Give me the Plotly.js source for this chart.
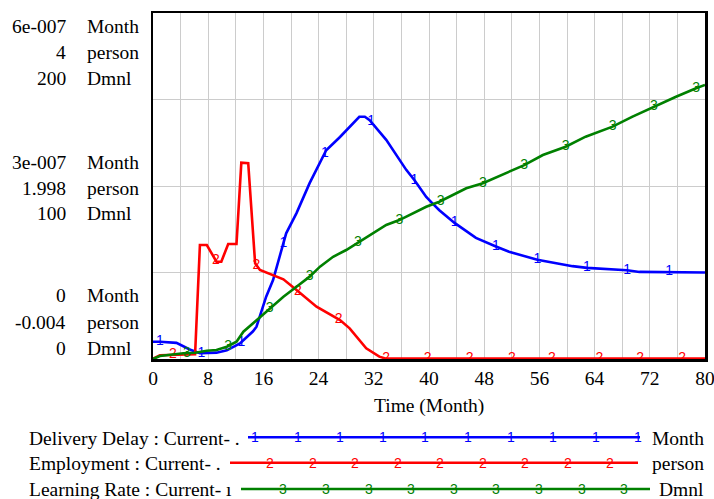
<!DOCTYPE html>
<html>
<head>
<meta charset="utf-8">
<script src="https://cdn.plot.ly/plotly-3.0.1.min.js"></script>
<style>html,body{margin:0;padding:0;background:#fff;}#chart{width:714px;height:499px;}</style>
</head>
<body>
<div id="chart"></div>
<script>
// ---- data ----
const seriesNames = ["Delivery Delay : Current- .", "Employment : Current- .", "Learning Rate : Current- \u0131"];
const seriesUnits = ["Month", "person", "Dmnl"];
const seriesMarks = ["1", "2", "3"];

const deliveryT = [0,1,3.4,5.4,6.8,9.2,10.7,12.6,14.5,15,16.4,17.4,19.3,20.8,22.7,24.2,25.1,27.1,28.5,29.9,30.7,31.4,33.8,35.7,36.7,37.9,39.6,40.5,41.5,43.7,46.8,49.7,51.6,55.7,60.8,62.9,65.6,68.7,70.5,74.8,80];
const deliveryV = [3.0e-8,3.0e-8,2.8e-8,1.6e-8,1.0e-8,1.1e-8,1.5e-8,2.7e-8,4.8e-8,5.6e-8,1.08e-7,1.37e-7,2.18e-7,2.53e-7,3.05e-7,3.39e-7,3.62e-7,3.85e-7,4.03e-7,4.2e-7,4.2e-7,4.14e-7,3.8e-7,3.46e-7,3.28e-7,3.1e-7,2.81e-7,2.7e-7,2.58e-7,2.36e-7,2.1e-7,1.95e-7,1.86e-7,1.72e-7,1.61e-7,1.58e-7,1.56e-7,1.54e-7,1.51e-7,1.51e-7,1.5e-7];

const employmentT = [0,1,6.1,6.8,7.8,9.2,9.9,10.9,12.1,12.8,13.8,14.8,15.5,17.4,18.9,20.8,23.7,27.1,28.5,30.9,32.8,33.8,80];
const employmentV = [0,0.04,0.05,1.315,1.315,1.122,1.122,1.327,1.327,2.268,2.261,1.103,1.026,0.968,0.918,0.794,0.601,0.447,0.351,0.12,0.023,0,0];

const learningT = [0,1,4.4,6.1,7.8,9.2,10.7,12.1,13.1,15,16.9,18.9,20.8,22.7,24.2,26.1,28,29.9,31.9,33.8,35.7,37.7,39.6,41.5,45.4,47.8,51.6,53.8,56.5,59.8,62.7,66.6,69.5,72.6,75.8,78.7,80];
const learningV = [0,1.7,3.3,3.6,4.8,5.2,7.1,10,15.8,22.5,29.3,36,41.8,47.6,53.4,59.1,63,67.8,72.7,77.5,80.3,84.2,88,90.9,98.7,101.6,108.3,112.1,117.9,122.7,128.5,134.3,140.1,145.8,151.6,156.5,158.4];

const deliveryMarkT = [1,7,12.8,18.9,24.9,31.6,37.9,43.7,49.7,55.7,62.9,68.7,74.8];
const employmentMarkT = [2.9,9.1,15,21,26.9,33.8,39.8,45.9,52,57.8,64.7,70.6,76.7];
const learningMarkT = [4.9,10.9,16.9,22.7,29.7,35.7,41.7,47.8,53.8,59.8,66.6,72.6,78.7];

const xTickVals = [0,4,8,12,16,20,24,28,32,36,40,44,48,52,56,60,64,68,72,76,80];
const xTickText = ["0","","8","","16","","24","","32","","40","","48","","56","","64","","72","","80"];
const xTitle = "Time (Month)";

const yTickNums = [["6e-007","4","200"],["3e-007","1.998","100"],["0","-0.004","0"]];
const yRanges = [[0,6e-7],[-0.004,4],[0,200]];

// ---- style ----
const colors = ["#0000ff","#ff0000","#008000"];
const serif = "Liberation Serif";
const sans = "Liberation Sans";
const FS = 19.5;
const MS = 14;
const L = 153, R = 705, T = 13, B = 359;
const PX = x => (x - L) / (R - L);
const PY = y => (B - y) / (B - T);

function interp(ts, vs, t) {
  for (let i = 1; i < ts.length; i++) {
    if (t <= ts[i]) {
      const f = (t - ts[i-1]) / (ts[i] - ts[i-1]);
      return vs[i-1] + f * (vs[i] - vs[i-1]);
    }
  }
  return vs[vs.length-1];
}

const sets = [
  {t: deliveryT, v: deliveryV, m: deliveryMarkT, ax: "y"},
  {t: employmentT, v: employmentV, m: employmentMarkT, ax: "y2"},
  {t: learningT, v: learningV, m: learningMarkT, ax: "y3"}
];

const traces = [];
sets.forEach((s, i) => {
  traces.push({x: s.t, y: s.v, yaxis: s.ax, mode: "lines", type: "scatter",
    line: {color: colors[i], width: 2.6}, hoverinfo: "skip", showlegend: false, cliponaxis: false});
});
sets.forEach((s, i) => {
  traces.push({x: s.m, y: s.m.map(t => interp(s.t, s.v, t)), yaxis: s.ax, mode: "text", type: "scatter",
    text: s.m.map(() => seriesMarks[i]), textposition: "middle center",
    textfont: {family: sans, size: MS, color: colors[i]},
    hoverinfo: "skip", showlegend: false, cliponaxis: false});
});

const annotations = [];
const rowCenters = [[26.7,52.3,78.3],[162.3,188.3,213.3],[295.7,322.7,348.3]];
yTickNums.forEach((grp, g) => {
  grp.forEach((txt, k) => {
    annotations.push({xref:"paper", yref:"paper", x: PX(68), y: PY(rowCenters[g][k]), xanchor:"right", yanchor:"middle",
      text: txt, showarrow:false, font:{family: serif, size: FS, color:"#000"}});
    annotations.push({xref:"paper", yref:"paper", x: PX(85), y: PY(rowCenters[g][k]), xanchor:"left", yanchor:"middle",
      text: seriesUnits[k], showarrow:false, font:{family: serif, size: FS, color:"#000"}});
  });
});
annotations.push({xref:"paper", yref:"paper", x: PX(428.5), y: PY(406), xanchor:"center", yanchor:"middle",
  text: xTitle, showarrow:false, font:{family: serif, size: FS, color:"#000"}});

const shapes = [];
const legRows = [
  {y: 437.3, x0: 248, x1: 640, m0: 255, step: 42.6, n: 10, ty: 438.3},
  {y: 462.7, x0: 230, x1: 638, m0: 270, step: 42.5, n: 9, ty: 463.3},
  {y: 489, x0: 241, x1: 650, m0: 283.3, step: 42.6, n: 9, ty: 489.5}
];
legRows.forEach((r, i) => {
  shapes.push({type:"line", xref:"paper", yref:"paper", x0: PX(r.x0), x1: PX(r.x1), y0: PY(r.y), y1: PY(r.y),
    line:{color: colors[i], width: 2.6}});
  for (let k = 0; k < r.n; k++) {
    annotations.push({xref:"paper", yref:"paper", x: PX(r.m0 + k*r.step), y: PY(r.y), xanchor:"center", yanchor:"middle",
      text: seriesMarks[i], showarrow:false, font:{family: sans, size: MS, color: colors[i]}});
  }
  annotations.push({xref:"paper", yref:"paper", x: PX(27), y: PY(r.ty), xanchor:"left", yanchor:"middle",
    text: seriesNames[i], showarrow:false, font:{family: serif, size: FS, color:"#000"}});
  annotations.push({xref:"paper", yref:"paper", x: PX(706), y: PY(r.ty), xanchor:"right", yanchor:"middle",
    text: seriesUnits[i], showarrow:false, font:{family: serif, size: FS, color:"#000"}});
});

const hiddenY = (rng) => ({range: rng, overlaying: "y", showgrid:false, showticklabels:false, zeroline:false, showline:false, fixedrange:true});

const layout = {
  width: 714, height: 499,
  font: {family: serif, size: FS, color: "#000"},
  margin: {l: L, r: 714 - R, t: T, b: 499 - B, pad: 0},
  paper_bgcolor: "#fff", plot_bgcolor: "#fff",
  showlegend: false,
  xaxis: {range: [0, 80], tickvals: xTickVals, ticktext: xTickText, ticks: "", showgrid: true,
    gridcolor: "#cccccc", gridwidth: 1, zeroline: false, showline: true, mirror: true, linecolor: "#000", linewidth: 2.5,
    tickfont: {family: serif, size: FS, color: "#000"}, ticklabeloverflow: "allow", fixedrange: true},
  yaxis: {range: yRanges[0], dtick: 1.5e-7, tick0: 0, showgrid: true, gridcolor: "#cccccc", gridwidth: 1,
    showticklabels: false, ticks: "", zeroline: false, showline: true, mirror: true, linecolor: "#000", linewidth: 2.5, fixedrange: true},
  yaxis2: hiddenY(yRanges[1]),
  yaxis3: hiddenY(yRanges[2]),
  annotations: annotations,
  shapes: shapes
};

Plotly.newPlot("chart", traces, layout, {staticPlot: true, displayModeBar: false});
</script>
</body>
</html>
